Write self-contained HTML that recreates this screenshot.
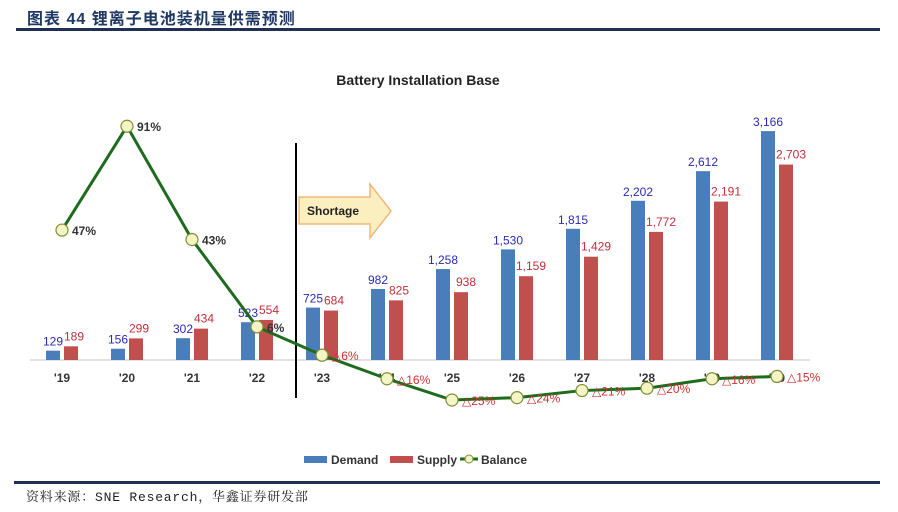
<!DOCTYPE html>
<html><head><meta charset="utf-8">
<style>
body{margin:0;background:#fff;width:898px;height:512px;overflow:hidden;position:relative;font-family:"Liberation Sans",sans-serif}
#hdr{position:absolute;left:27px;top:5px;font:bold 16px "Liberation Sans","Noto Sans CJK SC",sans-serif;color:#1f3864;letter-spacing:1px}
#hline{position:absolute;left:16px;top:28px;width:864px;height:3px;background:#1f2f55}
#fline{position:absolute;left:14px;top:481px;width:866px;height:3px;background:#1f2f55}
#src{position:absolute;left:26px;top:486px;font:13px "Liberation Mono","Noto Serif CJK SC",serif;color:#222;letter-spacing:0.8px}
svg{position:absolute;left:0;top:0}
</style></head><body>
<div id="hdr">图表 44 锂离子电池装机量供需预测</div>
<div id="hline"></div>
<svg id="chart" width="898" height="512"></svg>
<div id="fline"></div>
<div id="src">资料来源：SNE Research，华鑫证券研发部</div>
<script>
const categories=["'19","'20","'21","'22","'23","'24","'25","'26","'27","'28","'29","'30"];
const demand=[129,156,302,523,725,982,1258,1530,1815,2202,2612,3166];
const supply=[189,299,434,554,684,825,938,1159,1429,1772,2191,2703];
const balance=[47,91,43,6,-6,-16,-25,-24,-21,-20,-16,-15];
const demandLabels=["129","156","302","523","725","982","1,258","1,530","1,815","2,202","2,612","3,166"];
const supplyLabels=["189","299","434","554","684","825","938","1,159","1,429","1,772","2,191","2,703"];

const NS="http://www.w3.org/2000/svg";
const svg=document.getElementById('chart');
const base=360;
const x=i=>62+i*65;
const yv=v=>base-v*0.0723;
const yb=p=>341-p*2.36;
function mk(tag,attrs,parent){const e=document.createElementNS(NS,tag);for(const k in attrs)e.setAttribute(k,attrs[k]);(parent||svg).appendChild(e);return e;}
function txt(s,attrs){const t=mk('text',attrs);t.textContent=s;return t;}

let t=txt("Battery Installation Base",{x:418,y:85,'text-anchor':'middle','font-size':14,'font-weight':'bold',fill:'#222'});


let ax=mk('line',{x1:30,x2:810,y1:base,y2:base,stroke:'#d8d8d8','stroke-width':1.5});


categories.forEach((c,i)=>{
  const cx=x(i);
  let b=mk('rect',{x:cx-16,y:yv(demand[i]),width:14,height:base-yv(demand[i]),fill:'#4a7ebb'});
  
  
  let r=mk('rect',{x:cx+2,y:yv(supply[i]),width:14,height:base-yv(supply[i]),fill:'#c0504d'});
  
  
  let dl=txt(demandLabels[i],{x:cx-9,y:yv(demand[i])-5,'text-anchor':'middle','font-size':12,fill:'#2a2ab8'});
  
  
  let sl=txt(supplyLabels[i],{x:cx+(i<6?12:14),y:yv(supply[i])-6,'text-anchor':'middle','font-size':12,fill:'#c0303a'});
  
  
  let cl=txt(c,{x:cx,y:382,'text-anchor':'middle','font-size':12,'font-weight':'bold',fill:'#333'});
  
  
});
let dv=mk('line',{x1:296,x2:296,y1:143,y2:398,stroke:'#000','stroke-width':2});


let ar=mk('polygon',{points:'299,197 370,197 370,184 391,211 370,238 370,224 299,224',fill:'#fbefc0',stroke:'#f0b77a','stroke-width':1.5});


let st=txt("Shortage",{x:333,y:215,'text-anchor':'middle','font-size':12,'font-weight':'bold',fill:'#222'});


let pts=balance.map((p,i)=>x(i)+','+yb(p)).join(' ');
let bl=mk('polyline',{points:pts,fill:'none',stroke:'#1e6b1e','stroke-width':3});


balance.forEach((p,i)=>{
  let m=mk('circle',{cx:x(i),cy:yb(p),r:6,fill:'#f4f4c4',stroke:'#7d8f35','stroke-width':1.2});
  
  
  let l=txt(p>=0?p+'%':'△'+(-p)+'%',{x:x(i)+10,y:yb(p)+5,'font-size':12,'font-weight':p>=0?'bold':'normal',fill:p>=0?'#333':'#d03030'});
  
  
});
let g=mk('g',{});


mk('rect',{x:304,y:456,width:23,height:7,fill:'#4a7ebb'},g);
let l1=txt("Demand",{x:331,y:464,'font-size':12,'font-weight':'bold',fill:'#333'});


mk('rect',{x:390,y:456,width:23,height:7,fill:'#c0504d'},g);
let l2=txt("Supply",{x:417,y:464,'font-size':12,'font-weight':'bold',fill:'#333'});


mk('line',{x1:460,x2:478,y1:459,y2:459,stroke:'#1e6b1e','stroke-width':3},g);
mk('circle',{cx:469,cy:459,r:4,fill:'#f4f4c4',stroke:'#7d8f35'},g);
let l3=txt("Balance",{x:481,y:464,'font-size':12,'font-weight':'bold',fill:'#333'});


</script>
</body></html>
